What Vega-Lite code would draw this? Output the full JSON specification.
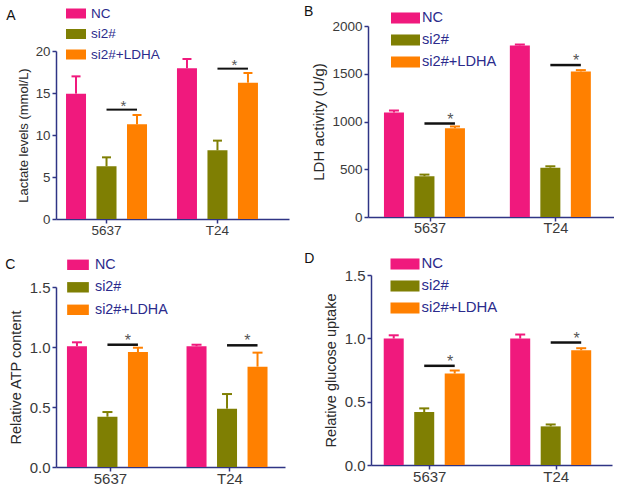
{
  "$schema": "https://vega.github.io/schema/vega-lite/v6.json",
  "padding": {"left": 5, "top": 2, "right": 0, "bottom": 0},
  "background": "white",
  "config": {
    "view": {"stroke": null},
    "font": "Liberation Sans",
    "axis": {"grid": false, "domainColor": "#2f3485", "domainWidth": 1.5, "tickColor": "#2f3485", "tickWidth": 1.5, "tickSize": 4, "labelColor": "#3a3a3a", "titleColor": "#2a2a2a", "titleFontWeight": "normal", "labelFont": "Liberation Sans", "titleFont": "Liberation Sans", "labelPadding": 2},
    "axisX": {"labelPadding": 0},
    "legend": {"labelFont": "Liberation Sans", "labelColor": "#2b2b8c", "padding": 0, "symbolStrokeWidth": 0, "symbolOpacity": 1},
    "title": {"font": "Liberation Sans", "fontWeight": "normal", "color": "#111111", "anchor": "start", "frame": "bounds", "baseline": "alphabetic", "fontSize": 14}
  },
  "datasets": {
    "a": [
      {"cell": "5637", "group": "NC", "value": 14.92, "upper": 16.98},
      {"cell": "5637", "group": "si2#", "value": 6.27, "upper": 7.34},
      {"cell": "5637", "group": "si2#+LDHA", "value": 11.27, "upper": 12.38},
      {"cell": "T24", "group": "NC", "value": 17.94, "upper": 19.05},
      {"cell": "T24", "group": "si2#", "value": 8.17, "upper": 9.33},
      {"cell": "T24", "group": "si2#+LDHA", "value": 16.23, "upper": 17.38}
    ],
    "sa": [
      {"cell": "5637", "group": "si2#", "sig": 13.02},
      {"cell": "5637", "group": "si2#+LDHA", "sig": 13.02},
      {"cell": "T24", "group": "si2#", "sig": 17.9},
      {"cell": "T24", "group": "si2#+LDHA", "sig": 17.9}
    ],
    "b": [
      {"cell": "5637", "group": "NC", "value": 1094, "upper": 1115},
      {"cell": "5637", "group": "si2#", "value": 427, "upper": 444},
      {"cell": "5637", "group": "si2#+LDHA", "value": 930, "upper": 948},
      {"cell": "T24", "group": "NC", "value": 1797, "upper": 1806},
      {"cell": "T24", "group": "si2#", "value": 517, "upper": 531},
      {"cell": "T24", "group": "si2#+LDHA", "value": 1524, "upper": 1538}
    ],
    "sb": [
      {"cell": "5637", "group": "si2#", "sig": 979},
      {"cell": "5637", "group": "si2#+LDHA", "sig": 979},
      {"cell": "T24", "group": "si2#", "sig": 1591},
      {"cell": "T24", "group": "si2#+LDHA", "sig": 1591}
    ],
    "c": [
      {"cell": "5637", "group": "NC", "value": 1.006, "upper": 1.039},
      {"cell": "5637", "group": "si2#", "value": 0.419, "upper": 0.458},
      {"cell": "5637", "group": "si2#+LDHA", "value": 0.958, "upper": 0.994},
      {"cell": "T24", "group": "NC", "value": 1.006, "upper": 1.019},
      {"cell": "T24", "group": "si2#", "value": 0.486, "upper": 0.608},
      {"cell": "T24", "group": "si2#+LDHA", "value": 0.836, "upper": 0.953}
    ],
    "sc": [
      {"cell": "5637", "group": "si2#", "sig": 1.019},
      {"cell": "5637", "group": "si2#+LDHA", "sig": 1.019},
      {"cell": "T24", "group": "si2#", "sig": 1.014},
      {"cell": "T24", "group": "si2#+LDHA", "sig": 1.014}
    ],
    "d": [
      {"cell": "5637", "group": "NC", "value": 0.998, "upper": 1.024},
      {"cell": "5637", "group": "si2#", "value": 0.418, "upper": 0.447},
      {"cell": "5637", "group": "si2#+LDHA", "value": 0.722, "upper": 0.746},
      {"cell": "T24", "group": "NC", "value": 0.998, "upper": 1.03},
      {"cell": "T24", "group": "si2#", "value": 0.305, "upper": 0.32},
      {"cell": "T24", "group": "si2#+LDHA", "value": 0.906, "upper": 0.922}
    ],
    "sd": [
      {"cell": "5637", "group": "si2#", "sig": 0.783},
      {"cell": "5637", "group": "si2#+LDHA", "sig": 0.783},
      {"cell": "T24", "group": "si2#", "sig": 0.967},
      {"cell": "T24", "group": "si2#+LDHA", "sig": 0.967}
    ],
    "none": []
  },
  "resolve": {"scale": {"color": "independent"}, "legend": {"color": "independent"}},
  "spacing": 11,
  "vconcat": [
    {
      "columns": 2,
      "align": "none",
      "spacing": {"row": 0, "column": 14},
      "resolve": {"scale": {"color": "independent"}, "legend": {"color": "independent"}},
      "concat": [
        {"width": 1, "height": 1, "data": {"name": "none"}, "mark": {"type": "point", "opacity": 0}, "encoding": {}},
        {"width": 1, "height": 1, "data": {"name": "none"}, "mark": {"type": "point", "opacity": 0}, "encoding": {}},
        {
          "width": 233, "height": 168,
          "title": {"text": "A", "offset": -19.8, "dx": -11},
          "layer": [
            {
              "data": {"name": "a"},
              "mark": {"type": "bar"},
              "encoding": {
                "x": {"field": "cell", "type": "nominal", "scale": {"paddingInner": 0.27, "paddingOuter": 0.185, "align": 0.244}, "axis": {"title": null, "labelAngle": 0, "labelFontSize": 13.5}},
                "xOffset": {"field": "group", "type": "nominal", "scale": {"domain": ["NC", "si2#", "si2#+LDHA"], "paddingInner": 0.344, "paddingOuter": 0}},
                "y": {"field": "value", "type": "quantitative", "scale": {"domain": [0, 20], "nice": false}, "axis": {"title": "Lactate levels (mmol/L)", "values": [0, 5, 10, 15, 20], "labelFontSize": 13.3, "titleFontSize": 13, "titlePadding": 5}},
                "color": {"field": "group", "type": "nominal", "scale": {"domain": ["NC", "si2#", "si2#+LDHA"], "range": ["#f0197d", "#7f7f03", "#ff8000"]},
                  "legend": {"title": null, "orient": "none", "legendX": 10, "legendY": -47.5, "symbolType": "M-1,-0.5H1V0.5H-1Z", "symbolSize": 400, "labelFontSize": 13.5, "labelOffset": 5, "rowPadding": 3.5}}
              }
            },
            {
              "data": {"name": "a"},
              "mark": {"type": "rule", "strokeWidth": 2},
              "encoding": {
                "x": {"field": "cell", "type": "nominal"},
                "xOffset": {"field": "group", "type": "nominal"},
                "y": {"field": "value", "type": "quantitative"},
                "y2": {"field": "upper"},
                "color": {"field": "group", "type": "nominal", "legend": null}
              }
            },
            {
              "data": {"name": "a"},
              "mark": {"type": "tick", "size": 9, "thickness": 2, "orient": "horizontal", "opacity": 1},
              "encoding": {
                "x": {"field": "cell", "type": "nominal"},
                "xOffset": {"field": "group", "type": "nominal"},
                "y": {"field": "upper", "type": "quantitative"},
                "color": {"field": "group", "type": "nominal", "legend": null}
              }
            },
            {
              "data": {"name": "sa"},
              "mark": {"type": "line", "color": "#111111", "strokeWidth": 2},
              "encoding": {
                "x": {"field": "cell", "type": "nominal"},
                "xOffset": {"field": "group", "type": "nominal"},
                "y": {"field": "sig", "type": "quantitative"},
                "detail": {"field": "cell"}
              }
            },
            {
              "data": {"name": "sa"},
              "transform": [{"filter": "datum.group === 'si2#'"}],
              "mark": {"type": "text", "text": "*", "fontSize": 15, "color": "#555555", "baseline": "alphabetic", "dy": 1},
              "encoding": {
                "x": {"field": "cell", "type": "nominal", "bandPosition": 0.71},
                "y": {"field": "sig", "type": "quantitative"}
              }
            }
          ]
        },
        {
          "width": 246, "height": 191,
          "title": {"text": "B", "offset": -15.5, "dx": -8},
          "layer": [
            {
              "data": {"name": "b"},
              "mark": {"type": "bar"},
              "encoding": {
                "x": {"field": "cell", "type": "nominal", "scale": {"paddingInner": 0.268, "paddingOuter": 0.111, "align": 0.571}, "axis": {"title": null, "labelAngle": 0, "labelFontSize": 14.5}},
                "xOffset": {"field": "group", "type": "nominal", "scale": {"domain": ["NC", "si2#", "si2#+LDHA"], "paddingInner": 0.325, "paddingOuter": 0}},
                "y": {"field": "value", "type": "quantitative", "scale": {"domain": [0, 2000], "nice": false}, "axis": {"title": "LDH activity (U/g)", "values": [0, 500, 1000, 1500, 2000], "format": "d", "labelFontSize": 13.5, "titleFontSize": 15, "titlePadding": 5}},
                "color": {"field": "group", "type": "nominal", "scale": {"domain": ["NC", "si2#", "si2#+LDHA"], "range": ["#f0197d", "#7f7f03", "#ff8000"]},
                  "legend": {"title": null, "orient": "none", "legendX": 23, "legendY": -22.5, "symbolType": "M-1,-0.38H1V0.38H-1Z", "symbolSize": 841, "labelFontSize": 14.6, "labelOffset": 2, "rowPadding": -8}}
              }
            },
            {
              "data": {"name": "b"},
              "mark": {"type": "rule", "strokeWidth": 2},
              "encoding": {
                "x": {"field": "cell", "type": "nominal"},
                "xOffset": {"field": "group", "type": "nominal"},
                "y": {"field": "value", "type": "quantitative"},
                "y2": {"field": "upper"},
                "color": {"field": "group", "type": "nominal", "legend": null}
              }
            },
            {
              "data": {"name": "b"},
              "mark": {"type": "tick", "size": 10, "thickness": 2, "orient": "horizontal", "opacity": 1},
              "encoding": {
                "x": {"field": "cell", "type": "nominal"},
                "xOffset": {"field": "group", "type": "nominal"},
                "y": {"field": "upper", "type": "quantitative"},
                "color": {"field": "group", "type": "nominal", "legend": null}
              }
            },
            {
              "data": {"name": "sb"},
              "mark": {"type": "line", "color": "#111111", "strokeWidth": 2.5},
              "encoding": {
                "x": {"field": "cell", "type": "nominal"},
                "xOffset": {"field": "group", "type": "nominal"},
                "y": {"field": "sig", "type": "quantitative"},
                "detail": {"field": "cell"}
              }
            },
            {
              "data": {"name": "sb"},
              "transform": [{"filter": "datum.group === 'si2#'"}],
              "mark": {"type": "text", "text": "*", "fontSize": 16, "color": "#555555", "baseline": "alphabetic", "dy": 1},
              "encoding": {
                "x": {"field": "cell", "type": "nominal", "bandPosition": 0.72},
                "y": {"field": "sig", "type": "quantitative"}
              }
            }
          ]
        }
      ]
    },
    {
      "columns": 2,
      "align": "none",
      "spacing": {"row": 0, "column": 19},
      "resolve": {"scale": {"color": "independent"}, "legend": {"color": "independent"}},
      "concat": [
        {"width": 1, "height": 1, "data": {"name": "none"}, "mark": {"type": "point", "opacity": 0}, "encoding": {}},
        {"width": 1, "height": 1, "data": {"name": "none"}, "mark": {"type": "point", "opacity": 0}, "encoding": {}},
        {
          "width": 229, "height": 180,
          "title": {"text": "C", "offset": -22, "dx": -3},
          "layer": [
            {
              "data": {"name": "c"},
              "mark": {"type": "bar"},
              "encoding": {
                "x": {"field": "cell", "type": "nominal", "scale": {"paddingInner": 0.273, "paddingOuter": 0.094, "align": 0.487}, "axis": {"title": null, "labelAngle": 0, "labelFontSize": 15}},
                "xOffset": {"field": "group", "type": "nominal", "scale": {"domain": ["NC", "si2#", "si2#+LDHA"], "paddingInner": 0.336, "paddingOuter": 0}},
                "y": {"field": "value", "type": "quantitative", "scale": {"domain": [0, 1.5], "nice": false}, "axis": {"title": "Relative ATP content", "values": [0, 0.5, 1, 1.5], "format": ".1f", "labelFontSize": 15, "titleFontSize": 14.5, "titlePadding": 6}},
                "color": {"field": "group", "type": "nominal", "scale": {"domain": ["NC", "si2#", "si2#+LDHA"], "range": ["#f0197d", "#7f7f03", "#ff8000"]},
                  "legend": {"title": " ", "titleFontSize": 4, "titlePadding": 0, "orient": "none", "legendX": 11, "legendY": -37.2, "symbolType": "M-1,-0.48H1V0.48H-1Z", "symbolSize": 471, "labelFontSize": 14.3, "labelOffset": 6, "rowPadding": 3.5}}
              }
            },
            {
              "data": {"name": "c"},
              "mark": {"type": "rule", "strokeWidth": 2},
              "encoding": {
                "x": {"field": "cell", "type": "nominal"},
                "xOffset": {"field": "group", "type": "nominal"},
                "y": {"field": "value", "type": "quantitative"},
                "y2": {"field": "upper"},
                "color": {"field": "group", "type": "nominal", "legend": null}
              }
            },
            {
              "data": {"name": "c"},
              "mark": {"type": "tick", "size": 10, "thickness": 2, "orient": "horizontal", "opacity": 1},
              "encoding": {
                "x": {"field": "cell", "type": "nominal"},
                "xOffset": {"field": "group", "type": "nominal"},
                "y": {"field": "upper", "type": "quantitative"},
                "color": {"field": "group", "type": "nominal", "legend": null}
              }
            },
            {
              "data": {"name": "sc"},
              "mark": {"type": "line", "color": "#111111", "strokeWidth": 2.5},
              "encoding": {
                "x": {"field": "cell", "type": "nominal"},
                "xOffset": {"field": "group", "type": "nominal"},
                "y": {"field": "sig", "type": "quantitative"},
                "detail": {"field": "cell"}
              }
            },
            {
              "data": {"name": "sc"},
              "transform": [{"filter": "datum.group === 'si2#'"}],
              "mark": {"type": "text", "text": "*", "fontSize": 16, "color": "#555555", "baseline": "alphabetic", "dy": 1},
              "encoding": {
                "x": {"field": "cell", "type": "nominal", "bandPosition": 0.7},
                "y": {"field": "sig", "type": "quantitative"}
              }
            }
          ]
        },
        {
          "width": 241, "height": 190,
          "title": {"text": "D", "offset": -16.5, "dx": -19},
          "layer": [
            {
              "data": {"name": "d"},
              "mark": {"type": "bar"},
              "encoding": {
                "x": {"field": "cell", "type": "nominal", "scale": {"paddingInner": 0.272, "paddingOuter": 0.0887, "align": 0.567}, "axis": {"title": null, "labelAngle": 0, "labelFontSize": 15}},
                "xOffset": {"field": "group", "type": "nominal", "scale": {"domain": ["NC", "si2#", "si2#+LDHA"], "paddingInner": 0.316, "paddingOuter": 0}},
                "y": {"field": "value", "type": "quantitative", "scale": {"domain": [0, 1.5], "nice": false}, "axis": {"title": "Relative glucose uptake", "values": [0, 0.5, 1, 1.5], "format": ".1f", "labelFontSize": 15, "titleFontSize": 14.5, "titlePadding": 6}},
                "color": {"field": "group", "type": "nominal", "scale": {"domain": ["NC", "si2#", "si2#+LDHA"], "range": ["#f0197d", "#7f7f03", "#ff8000"]},
                  "legend": {"title": null, "orient": "none", "legendX": 19.5, "legendY": -25.5, "symbolType": "M-1,-0.38H1V0.38H-1Z", "symbolSize": 841, "labelFontSize": 14.9, "labelOffset": 2, "rowPadding": -3.5}}
              }
            },
            {
              "data": {"name": "d"},
              "mark": {"type": "rule", "strokeWidth": 2},
              "encoding": {
                "x": {"field": "cell", "type": "nominal"},
                "xOffset": {"field": "group", "type": "nominal"},
                "y": {"field": "value", "type": "quantitative"},
                "y2": {"field": "upper"},
                "color": {"field": "group", "type": "nominal", "legend": null}
              }
            },
            {
              "data": {"name": "d"},
              "mark": {"type": "tick", "size": 10, "thickness": 2, "orient": "horizontal", "opacity": 1},
              "encoding": {
                "x": {"field": "cell", "type": "nominal"},
                "xOffset": {"field": "group", "type": "nominal"},
                "y": {"field": "upper", "type": "quantitative"},
                "color": {"field": "group", "type": "nominal", "legend": null}
              }
            },
            {
              "data": {"name": "sd"},
              "mark": {"type": "line", "color": "#111111", "strokeWidth": 2.5},
              "encoding": {
                "x": {"field": "cell", "type": "nominal"},
                "xOffset": {"field": "group", "type": "nominal"},
                "y": {"field": "sig", "type": "quantitative"},
                "detail": {"field": "cell"}
              }
            },
            {
              "data": {"name": "sd"},
              "transform": [{"filter": "datum.group === 'si2#'"}],
              "mark": {"type": "text", "text": "*", "fontSize": 16, "color": "#555555", "baseline": "alphabetic", "dy": 1},
              "encoding": {
                "x": {"field": "cell", "type": "nominal", "bandPosition": 0.72},
                "y": {"field": "sig", "type": "quantitative"}
              }
            }
          ]
        }
      ]
    }
  ]
}
